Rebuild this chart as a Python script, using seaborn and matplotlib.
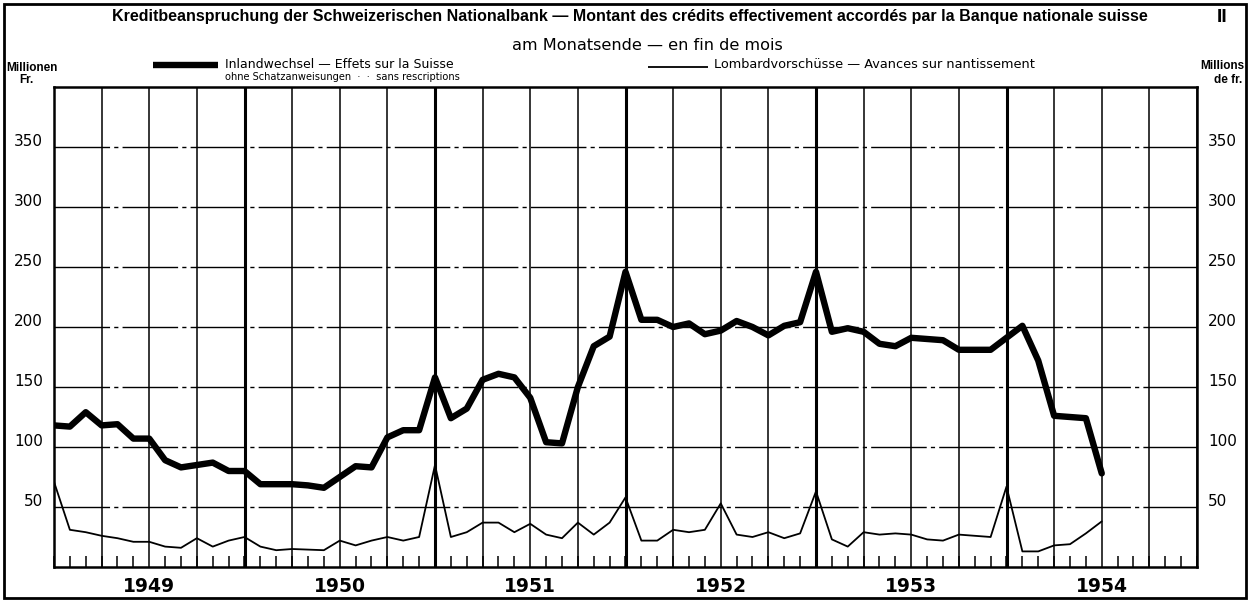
import numpy as np
import pandas as pd
import matplotlib
matplotlib.use("Agg")
import matplotlib.pyplot as plt
import matplotlib.transforms as mtransforms
from matplotlib.lines import Line2D
from matplotlib.patches import Rectangle
import seaborn as sns

# ---- data (month-end values, Dec 1948 .. Jun 1954, millions of francs) ----
start_month = "1948-12-31"
inlandwechsel = [118, 117, 129, 118, 119, 107, 107, 89, 83, 85, 87, 80,
                 80, 69, 69, 69, 68, 66, 75, 84, 83, 108, 114, 114,
                 158, 124, 132, 156, 161, 158, 141, 104, 103, 150, 184, 192,
                 246, 206, 206, 200, 203, 194, 197, 205, 200, 193, 201, 204,
                 246, 196, 199, 196, 186, 184, 191, 190, 189, 181, 181, 181,
                 191, 201, 172, 126, 125, 124, 78]
lombard = [71, 31, 29, 26, 24, 21, 21, 17, 16, 24, 17, 22,
           25, 17, 14, 15, 14.5, 14, 22, 18, 22, 25, 22, 25,
           85, 25, 29, 37, 37, 29, 36, 27, 24, 37, 27, 37,
           58, 22, 22, 31, 29, 31, 53, 27, 25, 29, 24, 28,
           63, 23, 17, 29, 27, 28, 27, 23, 22, 27, 26, 25,
           67, 13, 13, 18, 19, 28, 38]
years = [1949, 1950, 1951, 1952, 1953, 1954]
y_ticks = [50, 100, 150, 200, 250, 300, 350]

dates = pd.date_range(start_month, periods=len(inlandwechsel), freq="ME")
xdec = dates.year + dates.month / 12.0
df = pd.DataFrame({"x": np.concatenate([xdec, xdec]),
                   "value": inlandwechsel + lombard,
                   "series": ["Inland"] * len(inlandwechsel) + ["Lombard"] * len(lombard)})

sns.set_style("white")
plt.rcParams["font.family"] = ["DejaVu Sans"]
plt.rcParams["text.color"] = "black"
plt.rcParams["xtick.color"] = "black"
plt.rcParams["ytick.color"] = "black"
plt.rcParams["xtick.labelcolor"] = "black"
plt.rcParams["ytick.labelcolor"] = "black"

W, H = 1259, 601
fig = plt.figure(figsize=(W / 100, H / 100), dpi=100)
ax = fig.add_axes([54 / W, 1 - 567 / H, (1197 - 54) / W, (567 - 87) / H])

x0, x1 = years[0], years[-1] + 1
ax.set_xlim(x0, x1)
ax.set_ylim(0, 400)

for v in y_ticks:
    ax.axhline(v, color="black", lw=1.0, ls=(0, (40, 3, 3, 3)), zorder=1)
for q in np.arange(x0, x1 + 0.001, 0.25):
    ax.axvline(q, color="black", lw=1.1, zorder=1)
for yr in years[1:]:
    ax.axvline(yr, color="black", lw=2.2, zorder=1)

sns.lineplot(data=df[df.series == "Inland"], x="x", y="value", ax=ax,
             color="black", lw=4.6, zorder=3, legend=False)
sns.lineplot(data=df[df.series == "Lombard"], x="x", y="value", ax=ax,
             color="black", lw=1.3, zorder=3, legend=False)
ax.set_xlabel("")
ax.set_ylabel("")

ax.set_xticks([y + 0.5 for y in years])
ax.set_xticklabels([str(y) for y in years], fontsize=13.5, fontweight="bold")
ax.tick_params(axis="x", which="major", length=0, pad=7)
ax.set_xticks(np.arange(x0, x1 + 0.001, 1 / 12), minor=True)
ax.tick_params(axis="x", which="minor", direction="in", length=8, width=1.1,
               color="black", bottom=True)

ax.set_yticks(y_ticks)
ax.set_yticklabels([str(v) for v in y_ticks], fontsize=11)
ax.tick_params(axis="y", length=0, labelleft=True, labelright=True, pad=8)
offset = mtransforms.ScaledTranslation(0, 5 / 72, fig.dpi_scale_trans)
for lbl in ax.yaxis.get_majorticklabels():
    lbl.set_transform(lbl.get_transform() + offset)

for s in ax.spines.values():
    s.set_visible(True)
    s.set_color("black")
    s.set_linewidth(1.8)

fig.patches.append(Rectangle((4 / W, 1 - 598 / H), 1242 / W, 594 / H,
                             transform=fig.transFigure, fill=False, lw=2.0,
                             edgecolor="black", zorder=10))

renderer = fig.canvas.get_renderer()


def fit(t, width_px):
    bb = t.get_window_extent(renderer)
    t.set_fontsize(t.get_fontsize() * width_px / bb.width)


cond = ["Liberation Sans Narrow", "Liberation Sans", "DejaVu Sans"]
title = fig.text(112 / W, 1 - 16 / H,
                 "Kreditbeanspruchung der Schweizerischen Nationalbank — Montant des crédits effectivement accordés par la Banque nationale suisse",
                 ha="left", va="center", fontsize=14, fontweight="bold", family=cond)
fit(title, 1150 - 112)
fig.text(1222 / W, 1 - 17 / H, "II", ha="center", va="center",
         fontsize=14, fontweight="bold", family=cond)
sub = fig.text(512 / W, 1 - 45 / H, "am Monatsende — en fin de mois",
               ha="left", va="center", fontsize=8.5)
fit(sub, 782 - 512)

# legend
fig.lines.append(Line2D([153 / W, 218 / W], [1 - 65 / H] * 2,
                        transform=fig.transFigure, color="black", lw=4.6,
                        solid_capstyle="butt"))
t1 = fig.text(225 / W, 1 - 64 / H, "Inlandwechsel — Effets sur la Suisse",
              ha="left", va="center", fontsize=9.5)
fit(t1, 455 - 225)
t2 = fig.text(225 / W, 1 - 77 / H, "ohne Schatzanweisungen  ·  ·  sans rescriptions",
              ha="left", va="center", fontsize=6.5)
fit(t2, 460 - 225)
fig.lines.append(Line2D([648 / W, 708 / W], [1 - 67 / H] * 2,
                        transform=fig.transFigure, color="black", lw=1.3,
                        solid_capstyle="butt"))
t3 = fig.text(714 / W, 1 - 64 / H, "Lombardvorschüsse — Avances sur nantissement",
              ha="left", va="center", fontsize=9.5)
fit(t3, 1038 - 714)

fig.text(6 / W, 1 - 68 / H, "Millionen", ha="left", va="center", fontsize=8.5,
         fontweight="bold", family=cond)
fig.text(26 / W, 1 - 80 / H, "Fr.", ha="center", va="center", fontsize=8.5,
         fontweight="bold", family=cond)
fig.text(1244 / W, 1 - 66 / H, "Millions", ha="right", va="center", fontsize=8.5,
         fontweight="bold", family=cond)
fig.text(1228 / W, 1 - 80 / H, "de fr.", ha="center", va="center", fontsize=8.5,
         fontweight="bold", family=cond)

fig.savefig("out.png", dpi=100)
